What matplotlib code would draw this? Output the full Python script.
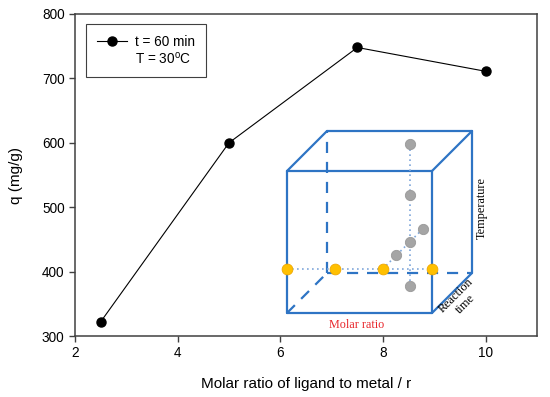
import numpy as np
import matplotlib.pyplot as plt
from matplotlib.lines import Line2D

# main series
ratio = [2.5, 5.0, 7.5, 10.0]
q = [322, 600, 748, 711]

x_ticks = [2, 4, 6, 8, 10]
y_ticks = [300, 400, 500, 600, 700, 800]

# schematic cube (unit coords: molar ratio, temperature, reaction time)
yellow_x = [0.0, 0.33, 0.66, 1.0]
level_y = 0.31
gray_vert_y = [0.0, 0.31, 0.64, 1.0]
gray_diag_z = [0.34, 1.0]
pick_x = 0.66
pick_z = 0.68

plt.rcParams['font.family'] = ['Liberation Sans', 'DejaVu Sans']

fig = plt.figure(figsize=(5.5, 3.97), dpi=100)
ax = fig.add_axes([75 / 550, 61 / 397, 462 / 550, 322 / 397])

line, = ax.plot(ratio, q, color='black', lw=0.8, marker='o', ms=6.5,
                zorder=3)
ax.set_xlim(2, 11)
ax.set_ylim(300, 800)
ax.set_xticks(x_ticks)
ax.set_yticks(y_ticks)
ax.tick_params(direction='out', length=4, width=1, labelsize=9.8,
               color='#404040', top=False, right=False)
for s in ax.spines.values():
    s.set_color('#404040')
    s.set_linewidth(1.1)
ax.set_xlabel('Molar ratio of ligand to metal / r', fontsize=11, labelpad=12)
ax.set_ylabel('q (mg/g)', fontsize=11, labelpad=14)

blank = Line2D([], [], linestyle='none', marker='none')
leg = ax.legend([line, blank], ['t = 60 min', 'T = 30$^\\mathregular{o}$C'],
                loc='upper left', bbox_to_anchor=(0.024, 0.969),
                borderaxespad=0,
                fancybox=False, edgecolor='#404040', framealpha=1,
                fontsize=9.8, handlelength=2.2, borderpad=0.8,
                labelspacing=0.1, handletextpad=0.6)
leg.get_frame().set_linewidth(0.8)

# inset schematic
ins = fig.add_axes([277 / 550, 60 / 397, 220 / 550, 217 / 397])
ins.set_xlim(-10, 210)
ins.set_ylim(-24, 193)
ins.axis('off')


def proj(x, y, z):
    return x * 145 + z * 40, y * 142 + z * 40


blue = '#2E74C4'


def edge(p0, p1, ls='-'):
    a = proj(*p0)
    b = proj(*p1)
    if ls == '-':
        ins.plot([a[0], b[0]], [a[1], b[1]], color=blue, lw=1.6,
                 solid_capstyle='round')
    else:
        ins.plot([a[0], b[0]], [a[1], b[1]], color=blue, lw=1.6,
                 dashes=(5, 4))


solid_edges = [
    ((0, 0, 0), (1, 0, 0)), ((1, 0, 0), (1, 1, 0)), ((1, 1, 0), (0, 1, 0)),
    ((0, 1, 0), (0, 0, 0)), ((0, 1, 0), (0, 1, 1)), ((1, 1, 0), (1, 1, 1)),
    ((0, 1, 1), (1, 1, 1)), ((1, 1, 1), (1, 0, 1)), ((1, 0, 0), (1, 0, 1)),
]
dashed_edges = [
    ((0, 0, 0), (0, 0, 1)), ((0, 0, 1), (1, 0, 1)), ((0, 0, 1), (0, 1, 1)),
]
for a, b in solid_edges:
    edge(a, b)
for a, b in dashed_edges:
    edge(a, b, '--')

dot_line = dict(color='#7FA7DA', lw=1.2, ls=(0, (1, 2)))
# horizontal guide
hx = [proj(x, level_y, 0)[0] for x in (0, 1)]
hy = [proj(x, level_y, 0)[1] for x in (0, 1)]
ins.plot(hx, hy, **dot_line)
# diagonal guide
d0 = proj(pick_x, level_y, 0)
d1 = proj(pick_x, level_y, 1)
ins.plot([d0[0], d1[0]], [d0[1], d1[1]], **dot_line)
# vertical guide
v0 = proj(pick_x, gray_vert_y[0], pick_z)
v1 = proj(pick_x, gray_vert_y[-1], pick_z)
ins.plot([v0[0], v1[0]], [v0[1], v1[1]], **dot_line)

gx = [proj(pick_x, y, pick_z)[0] for y in gray_vert_y]
gy = [proj(pick_x, y, pick_z)[1] for y in gray_vert_y]
gx += [proj(pick_x, level_y, z)[0] for z in gray_diag_z]
gy += [proj(pick_x, level_y, z)[1] for z in gray_diag_z]
ins.scatter(gx, gy, s=55, color='#A5A5A5', edgecolor='#999999', lw=0.6,
            zorder=4)

yx = [proj(x, level_y, 0)[0] for x in yellow_x]
yy = [proj(x, level_y, 0)[1] for x in yellow_x]
ins.scatter(yx, yy, s=60, color='#FFC000', edgecolor='#F0A800', lw=0.6,
            zorder=5)

serif = ['Liberation Serif', 'DejaVu Serif']
ins.text(70, -12, 'Molar ratio', color='#E8262B', fontsize=8.7, family=serif,
         ha='center', va='center')
ins.text(195, 105, 'Temperature', rotation=90, fontsize=8.8, family=serif,
         ha='center', va='center')
ins.text(174, 13, 'Reaction\ntime', rotation=45, fontsize=8.8, family=serif,
         ha='center', va='center', linespacing=1.1)

fig.savefig('out.png', dpi=100)
